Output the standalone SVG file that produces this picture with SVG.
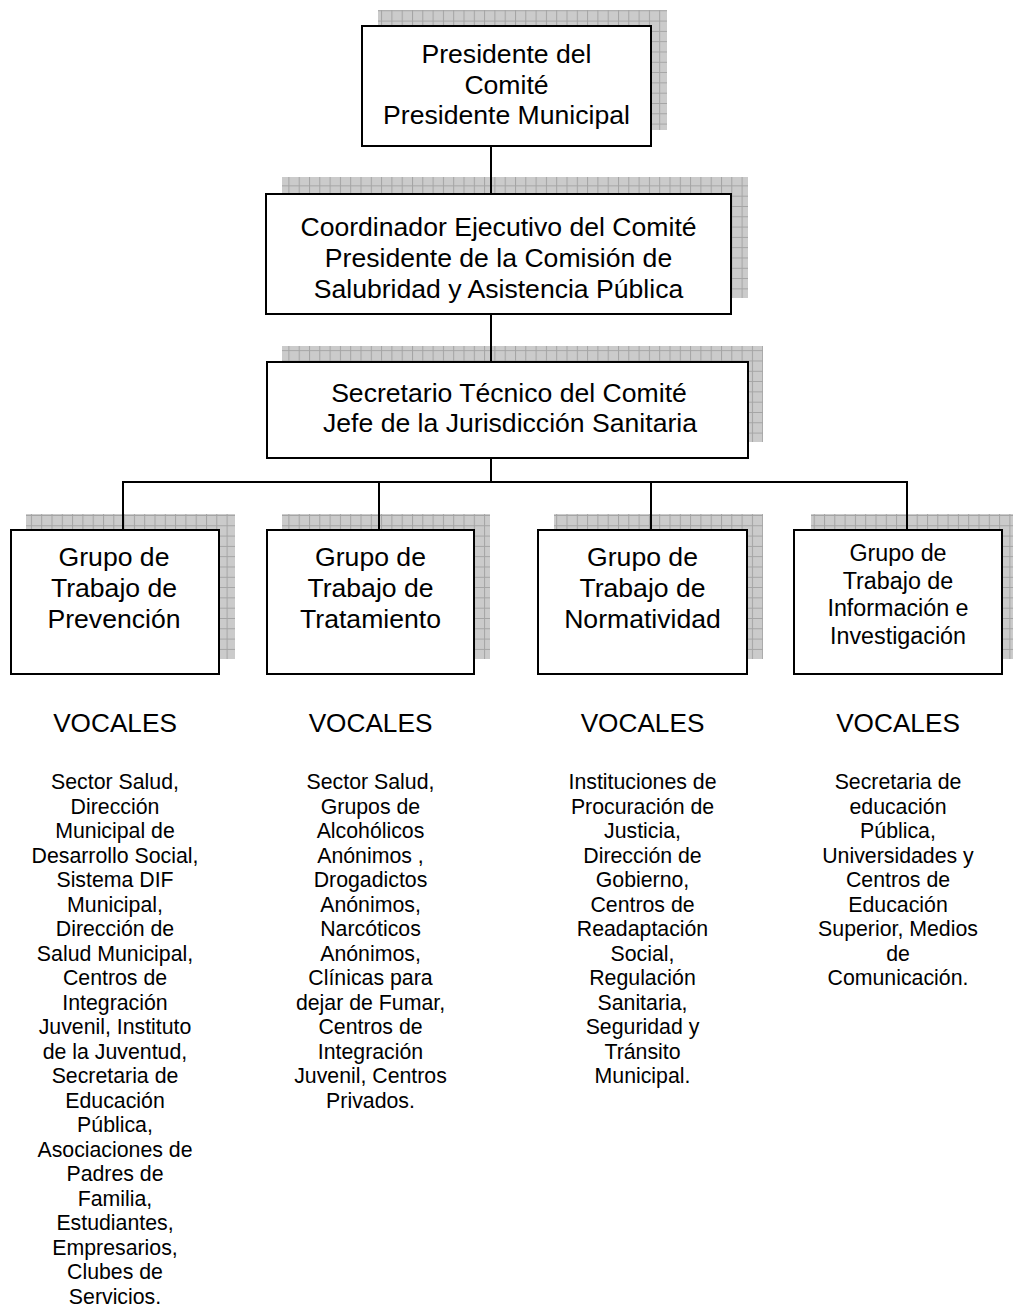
<svg xmlns="http://www.w3.org/2000/svg" width="1014" height="1307" viewBox="0 0 1014 1307">
<defs>
<pattern id="grid" patternUnits="userSpaceOnUse" width="10.3" height="10.3">
<rect width="10.3" height="10.3" fill="#cbcbcb"/>
<path d="M0 0.5H10.3M0.5 0V10.3" stroke="#a4a4a4" stroke-width="1" fill="none"/>
</pattern>
</defs>
<style>
.sh{fill:url(#grid)}
.bx{fill:#fff;stroke:#000;stroke-width:2}
.t{font-family:"Liberation Sans",Arial,sans-serif;fill:#000;text-anchor:middle}
.b{font-size:26.6px}
.g4{font-size:23.3px}
.v{font-size:26.2px}
.l{font-size:21.3px}
.cn{stroke:#000;stroke-width:2;fill:none}
</style>
<rect width="1014" height="1307" fill="#fff"/>

<g id="n-presidente">
<rect class="sh" x="378" y="10" width="289" height="120"/>
<rect class="bx" x="362" y="26" width="289" height="120"/>
<text class="t b" x="506.5" y="63">Presidente del</text>
<text class="t b" x="506.5" y="93.7">Comité</text>
<text class="t b" x="506.5" y="124.4">Presidente Municipal</text>
</g>

<g id="n-coordinador">
<rect class="sh" x="282" y="177" width="466" height="121"/>
<rect class="bx" x="266" y="194" width="465" height="120"/>
<text class="t b" x="498.5" y="236">Coordinador Ejecutivo del Comité</text>
<text class="t b" x="498.5" y="267">Presidente de la Comisión de</text>
<text class="t b" x="498.5" y="298">Salubridad y Asistencia Pública</text>
</g>

<g id="n-secretario">
<rect class="sh" x="282" y="346" width="481" height="96"/>
<rect class="bx" x="267" y="362" width="481" height="96"/>
<text class="t b" x="509" y="401.5">Secretario Técnico del Comité</text>
<text class="t b" x="510" y="431.5">Jefe de la Jurisdicción Sanitaria</text>
</g>

<g id="n-prevencion">
<rect class="sh" x="26" y="514" width="209" height="145"/>
<rect class="bx" x="11" y="530" width="208" height="144"/>
<text class="t b" x="114" y="566">Grupo de</text>
<text class="t b" x="114" y="597">Trabajo de</text>
<text class="t b" x="114" y="628">Prevención</text>
</g>

<g id="n-tratamiento">
<rect class="sh" x="282" y="514" width="208" height="145"/>
<rect class="bx" x="267" y="530" width="207" height="144"/>
<text class="t b" x="370.5" y="566">Grupo de</text>
<text class="t b" x="370.5" y="597">Trabajo de</text>
<text class="t b" x="370.5" y="628">Tratamiento</text>
</g>

<g id="n-normatividad">
<rect class="sh" x="554" y="514" width="209" height="145"/>
<rect class="bx" x="538" y="530" width="209" height="144"/>
<text class="t b" x="642.5" y="566">Grupo de</text>
<text class="t b" x="642.5" y="597">Trabajo de</text>
<text class="t b" x="642.5" y="628">Normatividad</text>
</g>

<g id="n-informacion">
<rect class="sh" x="811" y="514" width="202" height="145"/>
<rect class="bx" x="794" y="530" width="208" height="144"/>
<text class="t g4" x="898" y="561">Grupo de</text>
<text class="t g4" x="898" y="588.5">Trabajo de</text>
<text class="t g4" x="898" y="616">Información e</text>
<text class="t g4" x="898" y="643.5">Investigación</text>
</g>

<g id="connectors">
<path class="cn" d="M491 146V194"/>
<path class="cn" d="M491 314V362"/>
<path class="cn" d="M491 458V482"/>
<path class="cn" d="M122 482H908"/>
<path class="cn" d="M123 481V530M379 481V530M651 481V530M907 481V530"/>
</g>

<g id="vocales-prevencion">
<text class="t v" x="115" y="732">VOCALES</text>
<text class="t l" x="115" y="789">Sector Salud,</text>
<text class="t l" x="115" y="813.5">Dirección</text>
<text class="t l" x="115" y="838">Municipal de</text>
<text class="t l" x="115" y="862.5">Desarrollo Social,</text>
<text class="t l" x="115" y="887">Sistema DIF</text>
<text class="t l" x="115" y="911.5">Municipal,</text>
<text class="t l" x="115" y="936">Dirección de</text>
<text class="t l" x="115" y="960.5">Salud Municipal,</text>
<text class="t l" x="115" y="985">Centros de</text>
<text class="t l" x="115" y="1009.5">Integración</text>
<text class="t l" x="115" y="1034">Juvenil, Instituto</text>
<text class="t l" x="115" y="1058.5">de la Juventud,</text>
<text class="t l" x="115" y="1083">Secretaria de</text>
<text class="t l" x="115" y="1107.5">Educación</text>
<text class="t l" x="115" y="1132">Pública,</text>
<text class="t l" x="115" y="1156.5">Asociaciones de</text>
<text class="t l" x="115" y="1181">Padres de</text>
<text class="t l" x="115" y="1205.5">Familia,</text>
<text class="t l" x="115" y="1230">Estudiantes,</text>
<text class="t l" x="115" y="1254.5">Empresarios,</text>
<text class="t l" x="115" y="1279">Clubes de</text>
<text class="t l" x="115" y="1303.5">Servicios.</text>
</g>

<g id="vocales-tratamiento">
<text class="t v" x="370.5" y="732">VOCALES</text>
<text class="t l" x="370.5" y="789">Sector Salud,</text>
<text class="t l" x="370.5" y="813.5">Grupos de</text>
<text class="t l" x="370.5" y="838">Alcohólicos</text>
<text class="t l" x="370.5" y="862.5">Anónimos ,</text>
<text class="t l" x="370.5" y="887">Drogadictos</text>
<text class="t l" x="370.5" y="911.5">Anónimos,</text>
<text class="t l" x="370.5" y="936">Narcóticos</text>
<text class="t l" x="370.5" y="960.5">Anónimos,</text>
<text class="t l" x="370.5" y="985">Clínicas para</text>
<text class="t l" x="370.5" y="1009.5">dejar de Fumar,</text>
<text class="t l" x="370.5" y="1034">Centros de</text>
<text class="t l" x="370.5" y="1058.5">Integración</text>
<text class="t l" x="370.5" y="1083">Juvenil, Centros</text>
<text class="t l" x="370.5" y="1107.5">Privados.</text>
</g>

<g id="vocales-normatividad">
<text class="t v" x="642.5" y="732">VOCALES</text>
<text class="t l" x="642.5" y="789">Instituciones de</text>
<text class="t l" x="642.5" y="813.5">Procuración de</text>
<text class="t l" x="642.5" y="838">Justicia,</text>
<text class="t l" x="642.5" y="862.5">Dirección de</text>
<text class="t l" x="642.5" y="887">Gobierno,</text>
<text class="t l" x="642.5" y="911.5">Centros de</text>
<text class="t l" x="642.5" y="936">Readaptación</text>
<text class="t l" x="642.5" y="960.5">Social,</text>
<text class="t l" x="642.5" y="985">Regulación</text>
<text class="t l" x="642.5" y="1009.5">Sanitaria,</text>
<text class="t l" x="642.5" y="1034">Seguridad y</text>
<text class="t l" x="642.5" y="1058.5">Tránsito</text>
<text class="t l" x="642.5" y="1083">Municipal.</text>
</g>

<g id="vocales-informacion">
<text class="t v" x="898" y="732">VOCALES</text>
<text class="t l" x="898" y="789">Secretaria de</text>
<text class="t l" x="898" y="813.5">educación</text>
<text class="t l" x="898" y="838">Pública,</text>
<text class="t l" x="898" y="862.5">Universidades y</text>
<text class="t l" x="898" y="887">Centros de</text>
<text class="t l" x="898" y="911.5">Educación</text>
<text class="t l" x="898" y="936">Superior, Medios</text>
<text class="t l" x="898" y="960.5">de</text>
<text class="t l" x="898" y="985">Comunicación.</text>
</g>
</svg>
